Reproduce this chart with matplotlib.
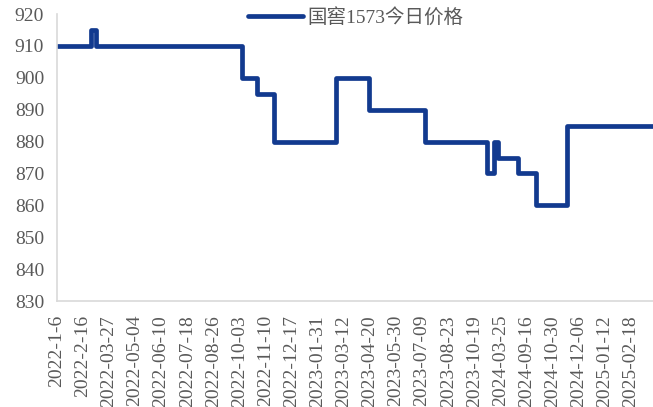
import matplotlib
matplotlib.use('Agg')
import matplotlib.pyplot as plt

# Подписи оси X (категориальная ось, подпись через равные интервалы)
date_labels = ['2022-1-6', '2022-2-16', '2022-03-27', '2022-05-04', '2022-06-10',
               '2022-07-18', '2022-08-26', '2022-10-03', '2022-11-10', '2022-12-17',
               '2023-01-31', '2023-03-12', '2023-04-20', '2023-05-30', '2023-07-09',
               '2023-08-23', '2023-10-19', '2024-03-25', '2024-09-16', '2024-10-30',
               '2024-12-06', '2025-01-12', '2025-02-18']

# Точки смены цены (в единицах шага подписей) и цена после смены
change_pos = [0, 1.33, 1.5, 7.09, 7.66, 8.34, 10.72, 11.98, 14.11,
              16.48, 16.76, 16.9, 17.66, 18.36, 19.54]
price = [910, 915, 910, 900, 895, 880, 900, 890, 880,
         870, 880, 875, 870, 860, 885]
last_pos = 22.85

line_color = '#123A8F'
text_color = '#595959'
num_font = ['Liberation Serif', 'Noto Sans CJK SC']

fig = plt.figure(figsize=(6.53, 4.07), dpi=100)
ax = fig.add_axes([56.7 / 653, 106 / 407, (653 - 56.7) / 653, (407 - 106 - 14) / 407])

ax.step(change_pos + [last_pos], price + [price[-1]], where='post',
        color=line_color, linewidth=3.4, solid_joinstyle='round',
        solid_capstyle='round', label='国窖1573今日价格')

ax.set_xlim(0, last_pos)
ax.set_ylim(830, 920)
ax.set_yticks(range(830, 921, 10))
ax.set_xticks(range(len(date_labels)))
ax.set_xticklabels(date_labels, rotation=90)

for lbl in ax.get_xticklabels() + ax.get_yticklabels():
    lbl.set_family(num_font)
    lbl.set_fontsize(14)
    lbl.set_color(text_color)

ax.tick_params(axis='both', length=0)
ax.tick_params(axis='y', pad=9)
ax.tick_params(axis='x', pad=10)

for side in ['top', 'right']:
    ax.spines[side].set_visible(False)
for side in ['left', 'bottom']:
    ax.spines[side].set_color('#d9d9d9')
    ax.spines[side].set_linewidth(1.2)

leg = ax.legend(loc='center left', bbox_to_anchor=(248 / 653, 1 - 17 / 407),
                bbox_transform=fig.transFigure, frameon=False, borderpad=0,
                borderaxespad=0, handlelength=2.85, handletextpad=0.2,
                prop={'family': num_font, 'size': 14})
for t in leg.get_texts():
    t.set_color(text_color)

fig.savefig('out.png', dpi=100)
